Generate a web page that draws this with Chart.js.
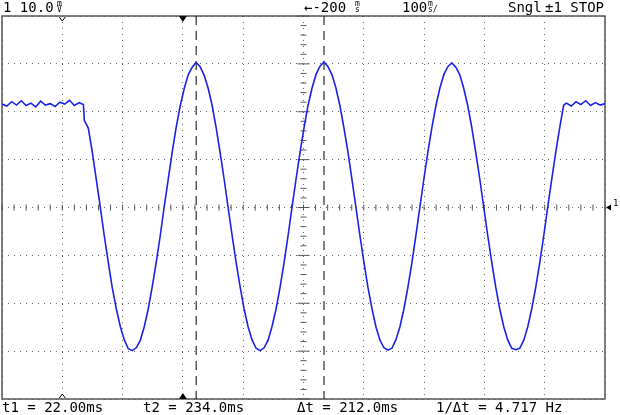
<!DOCTYPE html>
<html>
<head>
<meta charset="utf-8">
<script src="https://cdn.jsdelivr.net/npm/chart.js@4"></script>
<style>
  html, body { margin: 0; padding: 0; background: #fff; }
  #wrap { width: 620px; height: 415px; }
</style>
</head>
<body>
<div id="wrap"><canvas id="scope"></canvas></div>
<script>
// time in ms, voltage in mV (100 ms/div, 10 mV/div)
var flatBefore = [-300, -292, -284, -276, -268, -260, -252, -244, -236, -228, -220, -212, -204, -196, -188, -180, -172, -165];
var flatBeforeV = [21.6, 21.2, 22.1, 21.4, 22.3, 21.3, 21.8, 21.0, 22.2, 21.4, 21.7, 21.1, 22.0, 21.6, 22.4, 21.3, 21.9, 21.5];

var sineTimes = [-163.5, -156.9, -150.3, -143.6, -137, -130.4, -123.8, -117.1, -110.5, -103.9,
  -97.3, -90.6, -84, -77.4, -70.8, -64.1, -57.5, -50.9, -44.3, -37.6,
  -31, -24.4, -17.8, -11.1, -4.5, 2.1, 8.8, 15.4,
  22, 28.6, 35.3, 41.9, 48.5, 55.1, 61.8, 68.4, 75, 81.6, 88.3, 94.9, 101.5, 108.1, 114.8, 121.4,
  128, 134.6, 141.3, 147.9, 154.5, 161.1, 167.8, 174.4, 181, 187.6, 194.3, 200.9, 207.5, 214.1, 220.8, 227.4,
  234, 240.6, 247.3, 253.9, 260.5, 267.1, 273.8, 280.4, 287, 293.6, 300.3, 306.9, 313.5, 320.1, 326.8, 333.4,
  340, 346.6, 353.3, 359.9, 366.5, 373.1, 379.8, 386.4, 393, 399.6, 406.3, 412.9, 419.5, 426.1, 432.8, 439.4,
  446, 452.6, 459.3, 465.9, 472.5, 479.1, 485.8, 492.4, 499, 505.6, 512.3, 518.9, 525.5, 532.1, 538.8, 545.4,
  552, 558.6, 565.3, 571.9, 578.5, 585.1, 591.8, 598.4, 605, 611.6, 618.3, 624.9, 631.5];
var sineVolts = [18.2, 16.6, 11.6, 5.8, 0.1, -5.9, -11.4, -16.8, -21.1, -24.8,
  -27.6, -29.5, -29.9, -29.3, -27.8, -24.9, -21.2, -16.6, -11.5, -5.9,
  0.2, 5.8, 11.5, 16.8, 21.2, 24.8, 27.7, 29.3,
  30.3, 29.4, 27.6, 24.9, 21.3, 16.7, 11.4, 5.9, 0, -5.8, -11.5, -16.6, -21.2, -24.9, -27.7, -29.4,
  -29.9, -29.3, -27.7, -24.8, -21.2, -16.7, -11.5, -5.9, 0.1, 5.9, 11.5, 16.7, 21.3, 24.9, 27.8, 29.5,
  30.4, 29.4, 27.7, 24.9, 21.2, 16.6, 11.5, 5.8, 0, -5.9, -11.5, -16.7, -21.1, -24.9, -27.7, -29.3,
  -29.8, -29.4, -27.6, -24.9, -21.2, -16.7, -11.5, -5.8, 0.1, 5.9, 11.6, 16.7, 21.2, 24.9, 27.8, 29.4,
  30.2, 29.3, 27.7, 24.8, 21.2, 16.7, 11.4, 5.9, 0, -5.9, -11.5, -16.7, -21.2, -24.9, -27.7, -29.4,
  -29.7, -29.4, -27.7, -24.9, -21.2, -16.7, -11.5, -5.9, 0.1, 5.8, 11.5, 16.7, 21.4];

var flatAfter = [636, 644, 652, 660, 668, 676, 684, 692, 700];
var flatAfterV = [21.8, 21.2, 22.1, 21.5, 22.3, 21.3, 21.9, 21.4, 21.7];

var cursorT1 = 22;
var cursorT2 = 234;
var headerLeft = "1 10.0";
var footerTexts = ["t1 = 22.00ms", "t2 = 234.0ms", "\u0394t = 212.0ms", "1/\u0394t = 4.717 Hz"];

var points = [];
flatBefore.forEach(function (t, i) { points.push({ x: t, y: flatBeforeV[i] }); });
sineTimes.forEach(function (t, i) { points.push({ x: t, y: sineVolts[i] }); });
flatAfter.forEach(function (t, i) { points.push({ x: t, y: flatAfterV[i] }); });

var font = "'DejaVu Sans Mono', monospace";

var scopeDeco = {
  id: 'scopeDeco',
  beforeDatasetsDraw: function (chart) {
    var c = chart.ctx, a = chart.chartArea, xs = chart.scales.x, ys = chart.scales.y;
    c.save();
    // frame
    c.strokeStyle = '#555';
    c.lineWidth = 1.5;
    c.strokeRect(a.left, a.top, a.right - a.left, a.bottom - a.top);
    // center axis tick marks
    c.lineWidth = 1;
    var cx = xs.getPixelForValue(200), cy = ys.getPixelForValue(0);
    for (var v = -40; v <= 40; v += 2) {
      var py = ys.getPixelForValue(v);
      var w = (v % 10 === 0) ? 6 : 3;
      c.beginPath(); c.moveTo(cx - w, py); c.lineTo(cx + w, py); c.stroke();
    }
    for (var t = -300; t <= 700; t += 20) {
      var px = xs.getPixelForValue(t);
      c.beginPath(); c.moveTo(px, cy - 3); c.lineTo(px, cy + 3); c.stroke();
    }
    // cursors
    c.strokeStyle = '#000';
    c.setLineDash([9, 6]);
    [cursorT1, cursorT2].forEach(function (t) {
      var px = xs.getPixelForValue(t);
      c.beginPath(); c.moveTo(px, a.top); c.lineTo(px, a.bottom); c.stroke();
    });
    c.restore();
  },
  afterDraw: function (chart) {
    var c = chart.ctx, a = chart.chartArea, xs = chart.scales.x, ys = chart.scales.y;
    c.save();
    c.fillStyle = '#000';
    c.strokeStyle = '#000';
    c.font = '14px ' + font;
    c.textBaseline = 'alphabetic';
    c.fillText(headerLeft, 3, 12);
    c.font = '8px ' + font;
    c.fillText('m', 57, 6); c.fillText('V', 57, 12);
    c.font = '14px ' + font;
    c.fillText('\u2190-200', 304, 12);
    c.fillText('100', 402, 12);
    c.fillText('Sngl', 508, 12);
    c.fillText('\u00b11 STOP', 545, 12);
    c.font = '8px ' + font;
    c.fillText('m', 355, 6); c.fillText('s', 355, 12);
    c.fillText('m', 428, 6); c.fillText('s/', 428, 12);
    // trigger markers
    var tx = xs.getPixelForValue(-200);
    c.lineWidth = 1;
    c.beginPath(); c.moveTo(tx - 3, a.top + 1); c.lineTo(tx, a.top + 5); c.lineTo(tx + 3, a.top + 1); c.stroke();
    c.beginPath(); c.moveTo(tx - 3, a.bottom - 1); c.lineTo(tx, a.bottom - 5); c.lineTo(tx + 3, a.bottom - 1); c.stroke();
    var fx = xs.getPixelForValue(0);
    c.beginPath(); c.moveTo(fx - 4, a.top); c.lineTo(fx, a.top + 6); c.lineTo(fx + 4, a.top); c.fill();
    c.beginPath(); c.moveTo(fx - 4, a.bottom); c.lineTo(fx, a.bottom - 6); c.lineTo(fx + 4, a.bottom); c.fill();
    // ground marker right
    var gy = ys.getPixelForValue(0);
    c.beginPath(); c.moveTo(a.right + 1, gy); c.lineTo(a.right + 6, gy - 3); c.lineTo(a.right + 6, gy + 3); c.fill();
    c.font = '9px ' + font;
    c.fillText('1', a.right + 8, gy - 2);
    // footer
    c.font = '14px ' + font;
    var fxs = [2, 143, 297, 436];
    footerTexts.forEach(function (s, i) { c.fillText(s, fxs[i], 412); });
    c.restore();
  }
};

new Chart(document.getElementById('scope'), {
  type: 'line',
  data: {
    datasets: [{
      data: points,
      borderColor: 'rgb(25, 35, 230)',
      borderWidth: 1.6,
      pointRadius: 0,
      tension: 0,
      fill: false
    }]
  },
  options: {
    responsive: true,
    maintainAspectRatio: false,
    animation: false,
    layout: { padding: { left: 2, right: 15, top: 16, bottom: 16 } },
    plugins: { legend: { display: false }, tooltip: { enabled: false } },
    scales: {
      x: {
        type: 'linear', min: -300, max: 700,
        ticks: { display: false, stepSize: 100 },
        grid: { color: '#666', lineWidth: 1, drawTicks: false, tickLength: 0 },
        border: { display: false, dash: [1, 5] }
      },
      y: {
        min: -40, max: 40,
        ticks: { display: false, stepSize: 10 },
        grid: { color: '#666', lineWidth: 1, drawTicks: false, tickLength: 0 },
        border: { display: false, dash: [1, 5] }
      }
    }
  },
  plugins: [scopeDeco]
});
</script>
</body>
</html>
